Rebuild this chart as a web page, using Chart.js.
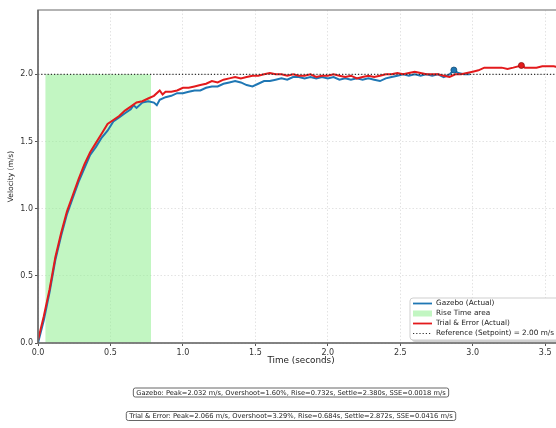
<!DOCTYPE html>
<html>
<head>
<meta charset="utf-8">
<script src="https://cdn.jsdelivr.net/npm/chart.js@4"></script>
<style>
  html, body { margin: 0; padding: 0; overflow: hidden; background: #fff; }
  #wrap { width: 580px; height: 428px; }
</style>
</head>
<body>
<div id="wrap"><canvas id="chart" width="580" height="428"></canvas></div>
<script>
// time stamps (s) and velocities (m/s)
const gazeboTime = [0.00,0.04,0.08,0.12,0.16,0.20,0.24,0.28,0.32,0.36,0.40,0.44,0.48,0.52,0.56,0.60,0.64,0.66,0.68,0.72,0.76,
  0.80,0.82,0.84,0.88,0.92,0.96,1.00,1.04,1.08,1.12,1.16,1.20,1.24,1.28,1.32,1.36,1.40,1.44,1.48,1.52,1.56,
  1.60,1.64,1.68,1.72,1.76,1.80,1.84,1.88,1.92,1.96,2.00,2.04,2.08,2.12,2.16,2.20,2.24,2.28,2.32,2.36,
  2.40,2.44,2.48,2.52,2.56,2.60,2.64,2.68,2.72,2.76,2.80,2.84,2.87,2.90,2.94,2.98];
const gazeboVel = [0.00,0.17,0.38,0.62,0.80,0.96,1.08,1.20,1.30,1.40,1.46,1.53,1.58,1.65,1.68,1.71,1.74,1.77,1.75,1.79,1.80,
  1.79,1.77,1.81,1.83,1.84,1.86,1.86,1.87,1.88,1.88,1.90,1.91,1.91,1.93,1.94,1.95,1.94,1.92,1.91,1.93,1.95,
  1.95,1.96,1.97,1.96,1.98,1.98,1.97,1.98,1.97,1.98,1.97,1.98,1.96,1.97,1.96,1.97,1.96,1.97,1.96,1.95,
  1.97,1.98,1.99,2.00,1.99,2.00,1.99,2.00,1.99,2.00,1.98,2.00,2.032,2.01,2.00,2.00];

const trialTime = [0.00,0.04,0.08,0.12,0.16,0.20,0.24,0.28,0.32,0.36,0.40,0.44,0.48,0.52,0.56,0.60,0.64,0.68,0.72,0.76,
  0.80,0.84,0.86,0.88,0.92,0.96,1.00,1.04,1.08,1.12,1.16,1.20,1.24,1.28,1.32,1.36,1.40,1.44,1.48,1.52,1.56,
  1.60,1.64,1.68,1.72,1.76,1.80,1.84,1.88,1.92,1.96,2.00,2.04,2.08,2.12,2.16,2.20,2.24,2.28,2.32,2.36,
  2.40,2.44,2.48,2.52,2.56,2.60,2.64,2.68,2.72,2.76,2.80,2.84,2.88,2.92,2.96,3.00,3.04,3.08,3.12,3.16,
  3.20,3.24,3.28,3.336,3.36,3.40,3.44,3.48,3.52,3.56,3.60,3.63];
const trialVel = [0.02,0.20,0.40,0.64,0.82,0.98,1.10,1.22,1.33,1.42,1.49,1.56,1.63,1.66,1.69,1.73,1.76,1.79,1.80,1.82,
  1.84,1.88,1.85,1.87,1.87,1.88,1.90,1.90,1.91,1.92,1.93,1.95,1.94,1.96,1.97,1.98,1.97,1.98,1.99,1.99,2.00,
  2.01,2.00,2.00,1.99,2.00,1.99,1.99,2.00,1.98,1.99,1.99,2.00,1.99,1.98,1.99,1.97,1.98,1.99,1.98,1.99,
  2.00,2.00,2.01,2.00,2.01,2.02,2.01,2.00,2.00,2.00,1.99,1.98,2.00,2.00,2.01,2.02,2.03,2.05,2.05,2.05,
  2.05,2.04,2.05,2.066,2.05,2.05,2.05,2.06,2.06,2.06,2.05,2.06];

const setpoint = 2.0;
const riseStart = 0.05;
const riseEnd = 0.78;
const gazeboPeak = [2.87, 2.032];
const trialPeak = [3.336, 2.066];

const xTicks = [0.0, 0.5, 1.0, 1.5, 2.0, 2.5, 3.0, 3.5];
const yTicks = [0.0, 0.5, 1.0, 1.5, 2.0];
const xMax = 3.63;
const yMax = 2.479;

const legendLabels = ["Gazebo (Actual)", "Rise Time area", "Trial & Error (Actual)", "Reference (Setpoint) = 2.00 m/s"];
const summaryLines = [
  "Gazebo: Peak=2.032 m/s, Overshoot=1.60%, Rise=0.732s, Settle=2.380s, SSE=0.0018 m/s",
  "Trial & Error: Peak=2.066 m/s, Overshoot=3.29%, Rise=0.684s, Settle=2.872s, SSE=0.0416 m/s"
];

const BLUE = "#1f77b4";
const RED = "#e31a1c";
const GREEN = "rgba(144,238,144,0.55)";
const FONT = "'DejaVu Sans', sans-serif";

const toPts = (xs, ys) => xs.map((x, i) => ({ x: x, y: ys[i] }));

// frame, legend and the two summary boxes under the axes
const extras = {
  id: "extras",
  afterDatasetsDraw(chart) {
    const { ctx, chartArea: a } = chart;
    ctx.save();
    ctx.strokeStyle = "#9a9a9a";
    ctx.lineWidth = 1.5;
    ctx.strokeRect(a.left, a.top, a.right - a.left, a.bottom - a.top);
    ctx.strokeStyle = "#555";
    ctx.lineWidth = 1.2;
    ctx.beginPath();
    ctx.moveTo(a.left, a.top); ctx.lineTo(a.left, a.bottom); ctx.lineTo(a.right, a.bottom);
    ctx.stroke();

    // legend
    const lx = 410, ly = 298, lw = 162, lh = 42;
    ctx.fillStyle = "rgba(0,0,0,0.18)";
    ctx.beginPath(); ctx.roundRect(lx + 2, ly + 2, lw, lh, 3); ctx.fill();
    ctx.fillStyle = "#fff";
    ctx.strokeStyle = "#cfcfcf";
    ctx.lineWidth = 1;
    ctx.beginPath(); ctx.roundRect(lx, ly, lw, lh, 3); ctx.fill(); ctx.stroke();
    ctx.font = "7.3px " + FONT;
    ctx.textBaseline = "middle";
    legendLabels.forEach((lab, i) => {
      const y = ly + 5.5 + i * 10;
      if (i === 1) {
        ctx.fillStyle = GREEN;
        ctx.fillRect(413, y - 3, 19, 6);
      } else {
        ctx.strokeStyle = i === 0 ? BLUE : i === 2 ? RED : "#333";
        ctx.lineWidth = i === 3 ? 1.1 : 1.8;
        ctx.setLineDash(i === 3 ? [1.2, 2] : []);
        ctx.beginPath(); ctx.moveTo(413, y); ctx.lineTo(432, y); ctx.stroke();
        ctx.setLineDash([]);
      }
      ctx.fillStyle = "#222";
      ctx.fillText(lab, 436, y);
    });

    // summary boxes
    ctx.font = "6.7px " + FONT;
    ctx.textAlign = "center";
    [392.5, 416].forEach((cy, i) => {
      const w = ctx.measureText(summaryLines[i]).width + 6;
      const cx = 291;
      ctx.fillStyle = "#fff";
      ctx.strokeStyle = "#666";
      ctx.lineWidth = 1;
      ctx.beginPath(); ctx.roundRect(cx - w / 2, cy - 4.5, w, 9, 2); ctx.fill(); ctx.stroke();
      ctx.fillStyle = "#222";
      ctx.fillText(summaryLines[i], cx, cy + 0.3);
    });
    ctx.restore();
  }
};

new Chart(document.getElementById("chart"), {
  type: "line",
  plugins: [extras],
  data: {
    datasets: [
      {
        label: legendLabels[1],
        data: [{ x: riseStart, y: setpoint }, { x: riseEnd, y: setpoint }],
        borderWidth: 0, pointRadius: 0, fill: "origin", backgroundColor: GREEN, order: 5
      },
      {
        label: legendLabels[3],
        data: [{ x: 0, y: setpoint }, { x: xMax, y: setpoint }],
        borderColor: "#333", borderWidth: 1.1, borderDash: [1.2, 2], pointRadius: 0, order: 1
      },
      {
        label: legendLabels[0],
        data: toPts(gazeboTime, gazeboVel),
        borderColor: BLUE, borderWidth: 2, pointRadius: 0, tension: 0, order: 3
      },
      {
        label: legendLabels[2],
        data: toPts(trialTime, trialVel),
        borderColor: RED, borderWidth: 2, pointRadius: 0, tension: 0, order: 2
      },
      {
        label: "gazebo peak",
        data: [{ x: gazeboPeak[0], y: gazeboPeak[1] }],
        showLine: false, pointRadius: 3, backgroundColor: BLUE, borderColor: "#174f78", borderWidth: 0.8, order: 0
      },
      {
        label: "trial peak",
        data: [{ x: trialPeak[0], y: trialPeak[1] }],
        showLine: false, pointRadius: 3, backgroundColor: RED, borderColor: "#8a1010", borderWidth: 0.8, order: 0
      }
    ]
  },
  options: {
    responsive: false,
    animation: false,
    layout: { padding: { left: 0, top: 10, right: 16, bottom: 62 } },
    plugins: { legend: { display: false }, tooltip: { enabled: false } },
    scales: {
      x: {
        type: "linear", min: 0, max: xMax,
        afterBuildTicks: (axis) => { axis.ticks = xTicks.map(v => ({ value: v })); },
        afterFit: (axis) => { axis.height = 23; },
        ticks: { callback: (v) => Number(v).toFixed(1), font: { family: FONT, size: 8 }, color: "#333", padding: 2, maxRotation: 0 },
        grid: { color: "#dcdcdc", lineWidth: 0.8, tickLength: 3, tickColor: "#555", tickWidth: 1 },
        border: { display: false, dash: [1.5, 2] },
        title: { display: true, text: "Time (seconds)", font: { family: FONT, size: 8.8 }, color: "#222", padding: 0 }
      },
      y: {
        type: "linear", min: 0, max: yMax,
        afterBuildTicks: (axis) => { axis.ticks = yTicks.map(v => ({ value: v })); },
        afterFit: (axis) => { axis.width = 38; },
        ticks: { callback: (v) => Number(v).toFixed(1), font: { family: FONT, size: 8 }, color: "#333", padding: 2 },
        grid: { color: "#dcdcdc", lineWidth: 0.8, tickLength: 3, tickColor: "#555", tickWidth: 1 },
        border: { display: false, dash: [1.5, 2] },
        title: { display: true, text: "Velocity (m/s)", font: { family: FONT, size: 7.5 }, color: "#222", padding: { top: 7, bottom: 0 } }
      }
    }
  }
});
</script>
</body>
</html>
